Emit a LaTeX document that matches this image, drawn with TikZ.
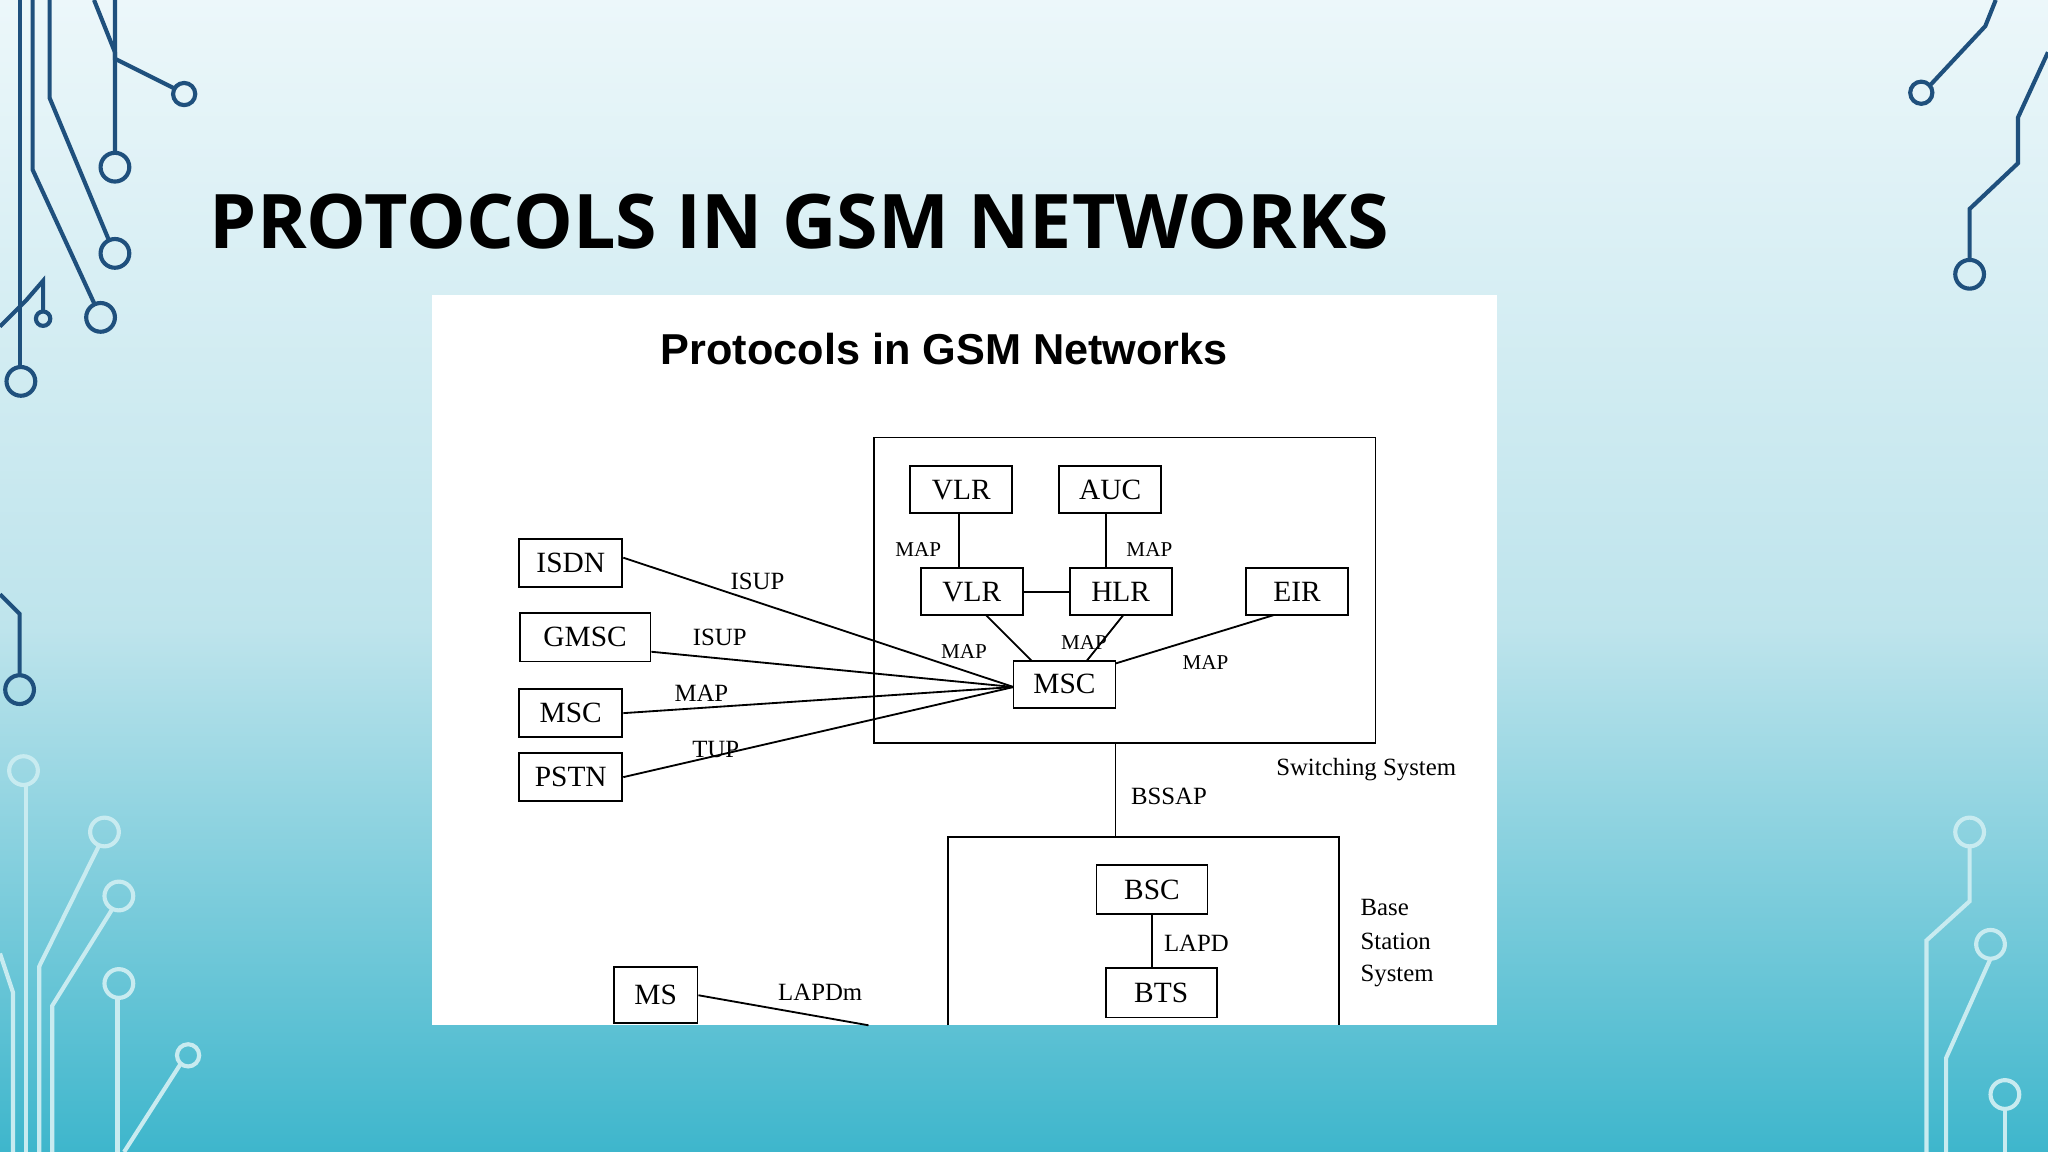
\documentclass[tikz,border=0pt]{standalone}
\usepackage{fontspec}
\setmainfont{Liberation Serif}
\newfontfamily\titlefont{Open Sans}
\newfontfamily\arialf{Liberation Sans}
\definecolor{bgtop}{RGB}{236,247,250}
\definecolor{bgmid}{RGB}{190,228,236}
\definecolor{bgbot}{RGB}{62,182,204}
\definecolor{cdark}{RGB}{31,80,125}
\definecolor{clight}{RGB}{200,235,240}
\begin{document}
\begin{tikzpicture}[x=0.01cm,y=-0.01cm,
  bx/.style={draw,line width=0.4pt,inner sep=0pt,font=\fontsize{6.4}{7}\selectfont},
  lbl/.style={font=\fontsize{5.4}{6}\selectfont,inner sep=0pt},
  sl/.style={font=\fontsize{4.6}{5}\selectfont,inner sep=0pt},
  cl/.style={line width=0.9pt,color=cdark},
  cw/.style={line width=0.9pt,color=clight},
  ln/.style={line width=0.4pt}]
\useasboundingbox (0,0) rectangle (1568,882);
\shade[top color=bgtop,bottom color=bgmid] (0,0) rectangle (1568,480);
\shade[top color=bgmid,bottom color=bgbot] (0,480) rectangle (1568,882);
% circuit decorations
\draw[cl] (88,0)--(88,45)--(134,68); \draw[cl] (141,72) circle (8.5);
\draw[cl] (72,0)--(88,40)--(88,117); \draw[cl] (88,128) circle (11);
\draw[cl] (38,0)--(38,75)--(83,183); \draw[cl] (88,194) circle (11);
\draw[cl] (25,0)--(25,130)--(72,232); \draw[cl] (77,243) circle (11);
\draw[cl] (15,0)--(15,281); \draw[cl] (16,292) circle (11);
\draw[cl] (0,250)--(20,230)--(33,215)--(33,239); \draw[cl] (33,244) circle (5.5);
\draw[cl] (0,455)--(15,470)--(15,517); \draw[cl] (15,528) circle (11);
\draw[cw] (0,730)--(10,760)--(10,882);
\draw[cw] (30,882)--(30,740)--(76,647); \draw[cw] (80,637) circle (11);
\draw[cw] (40,882)--(40,770)--(86,696); \draw[cw] (91,686) circle (11);
\draw[cw] (90,882)--(90,764); \draw[cw] (91,753) circle (11);
\draw[cw] (95,882)--(138,815); \draw[cw] (144,808) circle (8.5);
\draw[cw] (20,882)--(20,601); \draw[cw] (18,590) circle (11);
\draw[cl] (1528,0)--(1520,20)--(1478,65); \draw[cl] (1471,71) circle (8.5);
\draw[cl] (1568,40)--(1545,90)--(1545,125)--(1508,160)--(1508,199); \draw[cl] (1508,210) circle (11);
\draw[cw] (1508,648)--(1508,690)--(1475,720)--(1475,882); \draw[cw] (1508,637) circle (11);
\draw[cw] (1524,734)--(1490,810)--(1490,882); \draw[cw] (1524,723) circle (11);
\draw[cw] (1535,849)--(1535,882); \draw[cw] (1535,838) circle (11);
% title
\node[anchor=base west,inner sep=0pt] (title) at (160,190) {\resizebox{9.02cm}{!}{\titlefont\bfseries PROTOCOLS IN GSM NETWORKS}};
% panel
\fill[white] (331,226) rectangle (1146,785);
\node[inner sep=0pt] (ptitle) at (723,267) {\resizebox{4.34cm}{!}{\arialf\bfseries Protocols in GSM Networks}};
\node[draw,ln,minimum width=3.84cm,minimum height=2.34cm,inner sep=0pt] (sw) at (861,452) {};
\draw[ln] (726,785)--(726,641)--(1025,641)--(1025,785);
\coordinate (bsstop) at (854,641);
\node[bx,minimum width=0.78cm,minimum height=0.36cm] (vlr1) at (736,375) {VLR};
\node[bx,minimum width=0.78cm,minimum height=0.36cm] (auc) at (850,375) {AUC};
\node[bx,minimum width=0.78cm,minimum height=0.36cm] (vlr2) at (744,453) {VLR};
\node[bx,minimum width=0.78cm,minimum height=0.36cm] (hlr) at (858,453) {HLR};
\node[bx,minimum width=0.78cm,minimum height=0.36cm] (eir) at (993,453) {EIR};
\node[bx,minimum width=0.78cm,minimum height=0.36cm] (msc) at (815,524) {MSC};
\node[bx,minimum width=0.79cm,minimum height=0.37cm] (isdn) at (437,431) {ISDN};
\node[bx,minimum width=1.00cm,minimum height=0.37cm] (gmsc) at (448,488) {GMSC};
\node[bx,minimum width=0.79cm,minimum height=0.37cm] (msc2) at (437,546) {MSC};
\node[bx,minimum width=0.79cm,minimum height=0.37cm] (pstn) at (437,595) {PSTN};
\node[bx,minimum width=0.85cm,minimum height=0.38cm] (bsc) at (882,681) {BSC};
\node[bx,minimum width=0.85cm,minimum height=0.38cm] (bts) at (889,760) {BTS};
\node[bx,minimum width=0.64cm,minimum height=0.43cm] (ms) at (502,762) {MS};
\coordinate (mscw) at (776,526);
\coordinate (msend) at (665,785);
\draw[ln] (isdn.east |- 0,427) -- (mscw);
\draw[ln] (gmsc.east |- 0,499) -- (mscw);
\draw[ln] (msc2.east) -- (mscw);
\draw[ln] (pstn.east) -- (mscw);
\draw[ln] (734,393) -- (734,435);
\draw[ln] (847,393) -- (847,435);
\draw[ln] (vlr2) -- (hlr);
\draw[ln] (755,471) -- (790,506);
\draw[ln] (860,471) -- (832,506);
\draw[ln] (975,471) -- (854,508);
\draw[ln] (sw.south -| bsstop) -- (bsstop);
\draw[ln] (bsc.south) -- (bts.north -| bsc.south);
\draw[ln] (ms.east) -- (msend);
\node[lbl] (l1) at (580,445) {ISUP};
\node[lbl] (l2) at (551,488) {ISUP};
\node[lbl] (l3) at (537,531) {MAP};
\node[lbl] (l4) at (548,574) {TUP};
\node[sl] (l5) at (703,421) {MAP};
\node[sl] (l6) at (880,421) {MAP};
\node[sl] (l7) at (738,499) {MAP};
\node[sl] (l8) at (830,492) {MAP};
\node[sl] (l9) at (923,507) {MAP};
\node[lbl] (l10) at (895,610) {BSSAP};
\node[lbl] (l11) at (1046,589) {Switching System};
\node[lbl,anchor=west] (l12) at (1041,695) {Base};
\node[lbl,anchor=west] (l13) at (1041,721) {Station};
\node[lbl,anchor=west] (l14) at (1041,747) {System};
\node[lbl] (l15) at (916,722) {LAPD};
\node[lbl] (l16) at (628,760) {LAPDm};
\end{tikzpicture}
\end{document}
